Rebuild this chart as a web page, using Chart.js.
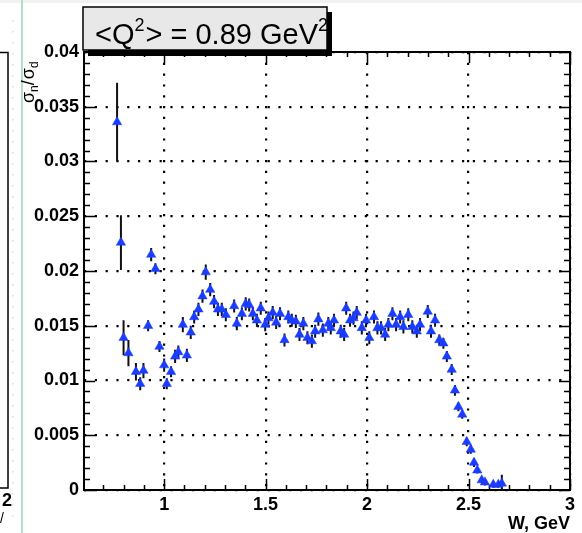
<!DOCTYPE html>
<html><head><meta charset="utf-8">
<script src="https://cdn.jsdelivr.net/npm/chart.js@4/dist/chart.umd.min.js"></script>
<style>html,body{margin:0;padding:0;background:#fff;overflow:hidden}canvas{display:block}</style>
</head><body>
<canvas id="c" width="582" height="533"></canvas>
<script>
// ---- data ----
const W = [0.768,0.787,0.800,0.824,0.861,0.882,0.898,0.921,0.936,0.957,
  0.977,1.000,1.013,1.034,1.054,1.070,1.092,1.112,1.131,1.148,
  1.169,1.189,1.205,1.227,1.246,1.265,1.284,1.304,1.345,1.358,
  1.383,1.402,1.419,1.437,1.457,1.476,1.498,1.514,1.535,1.552,
  1.571,1.593,1.612,1.629,1.649,1.667,1.686,1.706,1.728,1.744,
  1.760,1.782,1.809,1.821,1.837,1.870,1.887,1.897,1.916,1.933,
  1.949,1.974,1.995,2.011,2.034,2.051,2.069,2.089,2.105,2.125,
  2.143,2.163,2.179,2.203,2.223,2.245,2.261,2.299,2.315,2.335,
  2.356,2.376,2.393,2.417,2.433,2.450,2.469,2.491,2.511,2.527,
  2.543,2.565,2.581,2.622,2.647,2.664];
const ratio = [0.0336,0.0226,0.0139,0.0125,0.0108,0.0097,0.0109,0.0150,0.0215,0.0202,
  0.0131,0.0114,0.0097,0.0108,0.0122,0.0126,0.0151,0.0123,0.0144,0.0158,
  0.0165,0.0177,0.0199,0.0183,0.0172,0.0165,0.0165,0.0160,0.0168,0.0152,
  0.0161,0.0170,0.0169,0.0161,0.0155,0.0166,0.0151,0.0157,0.0162,0.0153,
  0.0161,0.0137,0.0158,0.0155,0.0154,0.0142,0.0152,0.0139,0.0136,0.0145,
  0.0156,0.0146,0.0152,0.0148,0.0155,0.0145,0.0142,0.0166,0.0155,0.0157,
  0.0162,0.0148,0.0155,0.0139,0.0158,0.0148,0.0148,0.0142,0.0151,0.0161,
  0.0151,0.0158,0.0149,0.0160,0.0149,0.0145,0.0151,0.0163,0.0145,0.0155,
  0.0137,0.0134,0.0122,0.0110,0.0091,0.0076,0.0069,0.0044,0.0037,0.0025,
  0.0018,0.0009,0.0007,0.0005,0.0005,0.0006];
const ratioErr = [0.0036,0.0025,0.0016,0.0012,0.0008,0.0006,0.0007,0.0005,0.0006,0.0005,
  0.0005,0.0006,0.0005,0.0005,0.0006,0.0006,0.0007,0.0006,0.0006,0.0006,
  0.0006,0.0006,0.0007,0.0006,0.0006,0.0006,0.0006,0.0006,0.0006,0.0006,
  0.0006,0.0006,0.0006,0.0006,0.0006,0.0006,0.0006,0.0006,0.0006,0.0006,
  0.0006,0.0006,0.0006,0.0006,0.0006,0.0006,0.0006,0.0006,0.0006,0.0006,
  0.0006,0.0006,0.0006,0.0006,0.0006,0.0006,0.0006,0.0006,0.0006,0.0006,
  0.0006,0.0006,0.0006,0.0006,0.0006,0.0006,0.0006,0.0006,0.0006,0.0006,
  0.0006,0.0006,0.0006,0.0006,0.0006,0.0006,0.0006,0.0006,0.0006,0.0006,
  0.0005,0.0005,0.0005,0.0005,0.0005,0.0004,0.0004,0.0004,0.0004,0.0004,
  0.0003,0.0003,0.0003,0.0003,0.0003,0.0008];
const xTickValues = [1, 1.5, 2, 2.5, 3];
const yTickValues = [0, 0.005, 0.01, 0.015, 0.02, 0.025, 0.03, 0.035, 0.04];
const xMinorStep = 0.1, yMinorStep = 0.001;
const titleParts = [['<Q',0],['2',1],['> = 0.89 GeV',0],['2',1]];
const xTitle = 'W, GeV';

const FONT = '"Liberation Sans", Arial, Helvetica, sans-serif';

const decor = {
  id: 'decor',
  beforeDraw(chart) {
    const ctx = chart.ctx;
    ctx.save();
    ctx.fillStyle = '#fff';
    ctx.fillRect(0, 0, chart.width, chart.height);
    ctx.fillStyle = '#f2f2f2';
    ctx.fillRect(0, 0, chart.width, 3);
    // partial neighbour panel at the left edge
    ctx.strokeStyle = '#000'; ctx.lineWidth = 1.5;
    ctx.beginPath();
    ctx.moveTo(0, 52.5); ctx.lineTo(8, 52.5); ctx.lineTo(8, 488); ctx.lineTo(0, 488);
    ctx.stroke();
    ctx.strokeStyle = '#9fd3b5'; ctx.lineWidth = 1.5;
    ctx.beginPath(); ctx.moveTo(22, 0); ctx.lineTo(22, chart.height); ctx.stroke();
    ctx.fillStyle = '#ddd';
    for (let y = 20; y < 520; y += 11) ctx.fillRect(12, y, 1.5, 1.5);
    ctx.fillStyle = '#000';
    ctx.font = 'bold 18px ' + FONT; ctx.textAlign = 'center'; ctx.textBaseline = 'top';
    ctx.fillText('2', 7, 492);
    ctx.font = '14px ' + FONT; ctx.textAlign = 'left';
    ctx.fillText('/', 0, 512);
    ctx.restore();
  },
  beforeDatasetsDraw(chart) {
    const ctx = chart.ctx, a = chart.chartArea;
    const xs = chart.scales.x, ys = chart.scales.y;
    ctx.save();
    ctx.strokeStyle = '#000'; ctx.lineWidth = 2;
    ctx.strokeRect(a.left, a.top, a.right - a.left, a.bottom - a.top);
    ctx.lineWidth = 1.5;
    ctx.beginPath();
    for (let v = Math.ceil(xs.min / xMinorStep) * xMinorStep; v <= xs.max + 1e-9; v += xMinorStep) {
      const major = xTickValues.some(t => Math.abs(t - v) < 1e-6);
      const L = major ? 11 : 5;
      const px = Math.round(xs.getPixelForValue(v)) + 0.5;
      ctx.moveTo(px, a.bottom); ctx.lineTo(px, a.bottom - L);
      ctx.moveTo(px, a.top); ctx.lineTo(px, a.top + L);
    }
    for (let v = 0; v <= ys.max + 1e-9; v += yMinorStep) {
      const major = yTickValues.some(t => Math.abs(t - v) < 1e-7);
      const L = major ? 11 : 6;
      const py = Math.round(ys.getPixelForValue(v)) + 0.5;
      ctx.moveTo(a.left, py); ctx.lineTo(a.left + L, py);
      ctx.moveTo(a.right, py); ctx.lineTo(a.right - L, py);
    }
    ctx.stroke();
    const ds = chart.data.datasets[0];
    ctx.strokeStyle = '#111'; ctx.lineWidth = 2;
    ctx.beginPath();
    ds.data.forEach((p, i) => {
      const e = ds.errors[i];
      const px = xs.getPixelForValue(p.x);
      ctx.moveTo(px, ys.getPixelForValue(Math.max(0, p.y - e)));
      ctx.lineTo(px, ys.getPixelForValue(p.y + e));
    });
    ctx.stroke();
    ctx.restore();
  },
  afterDraw(chart) {
    const ctx = chart.ctx;
    ctx.save();
    ctx.fillStyle = '#000';
    ctx.fillRect(88, 12, 244, 44);
    ctx.fillStyle = '#e8e8e8';
    ctx.fillRect(83, 7, 244, 43);
    ctx.strokeStyle = '#000'; ctx.lineWidth = 1.5;
    ctx.strokeRect(83, 7, 244, 43);
    let x = 95;
    ctx.fillStyle = '#000'; ctx.textBaseline = 'alphabetic'; ctx.textAlign = 'left';
    titleParts.forEach(([t, sup]) => {
      ctx.font = (sup ? '18px ' : '29px ') + FONT;
      ctx.fillText(t, x, sup ? 31 : 44);
      x += ctx.measureText(t).width + (sup ? 1 : 0);
    });
    ctx.translate(34, 103);
    ctx.rotate(-Math.PI / 2);
    let tx = 0;
    const parts = [['σ',0],['n',1],['/',0],['σ',0],['d',1]];
    parts.forEach(([t, sub]) => {
      ctx.font = (sub ? '12px ' : '18px ') + FONT;
      ctx.fillText(t, tx, sub ? 4 : 0);
      tx += ctx.measureText(t).width + (t === '/' ? 1 : 0);
    });
    ctx.restore();
  }
};

new Chart(document.getElementById('c'), {
  type: 'scatter',
  data: {
    datasets: [{
      data: W.map((w, i) => ({x: w, y: ratio[i]})),
      errors: ratioErr,
      pointStyle: 'triangle',
      pointRadius: 5.4,
      pointHoverRadius: 5.4,
      backgroundColor: '#1a3cff',
      borderColor: '#1a3cff',
      borderWidth: 0.5,
      clip: false
    }]
  },
  options: {
    responsive: false,
    animation: false,
    events: [],
    layout: { padding: { top: 52, right: 12, left: 0, bottom: 0 } },
    plugins: { legend: { display: false }, tooltip: { enabled: false } },
    scales: {
      x: {
        type: 'linear', min: 0.605, max: 3,
        afterBuildTicks: s => { s.ticks = xTickValues.map(v => ({ value: v })); },
        afterFit: s => { s.height = 43; },
        grid: { color: '#000', lineWidth: 2.2, drawTicks: false },
        border: { display: false, dash: [2.2, 8.6] },
        ticks: { color: '#000', padding: 4, maxRotation: 0, autoSkip: false,
                 font: { family: FONT, size: 18, weight: 'bold' },
                 callback: v => String(v) },
        title: { display: true, text: xTitle, align: 'end', color: '#000',
                 font: { family: FONT, size: 18, weight: 'bold' }, padding: { top: 0, bottom: -2 } }
      },
      y: {
        type: 'linear', min: 0, max: 0.04,
        afterBuildTicks: s => { s.ticks = yTickValues.map(v => ({ value: v })); },
        afterFit: s => { s.width = 84; },
        grid: { color: '#000', lineWidth: 2.2, drawTicks: false },
        border: { display: false, dash: [2.2, 8.6] },
        ticks: { color: '#000', padding: 5, autoSkip: false,
                 font: { family: FONT, size: 18, weight: 'bold' },
                 callback: v => String(+v.toFixed(3)) }
      }
    }
  },
  plugins: [decor]
});
</script>
</body></html>
